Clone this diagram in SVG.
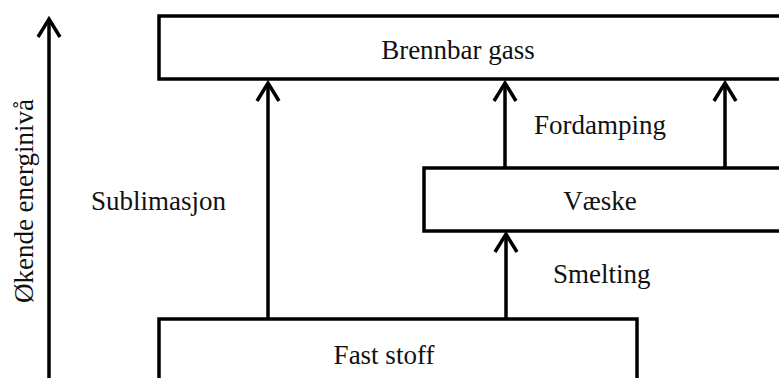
<svg xmlns="http://www.w3.org/2000/svg" width="779" height="378" viewBox="0 0 779 378">
  <style>
    .box { fill: #ffffff; stroke: #000000; stroke-width: 3.5; }
    .conn { fill: none; stroke: #000000; stroke-width: 3.5; marker-end: url(#chev); }
    text { font-family: "Liberation Serif", "Times New Roman", serif; font-size: 27px; fill: #111111; }
    .c { text-anchor: middle; }
  </style>
  <defs>
    <marker id="chev" markerUnits="userSpaceOnUse" orient="auto" refX="0" refY="0" markerWidth="30" markerHeight="30" overflow="visible">
      <path d="M-18,-11 L0,0 L-18,11" fill="none" stroke="#000000" stroke-width="3.5" stroke-linejoin="miter" stroke-linecap="butt"/>
    </marker>
  </defs>
  <rect x="0" y="0" width="779" height="378" fill="#ffffff"/>

  <g id="axis">
    <line class="conn" x1="49" y1="380" x2="49" y2="19"/>
    <text transform="translate(33,201) rotate(-90)" class="c" font-size="28.5px">Økende energinivå</text>
  </g>

  <g id="node-gass">
    <rect class="box" x="159" y="16" width="650" height="63"/>
    <text class="c" x="458" y="59">Brennbar gass</text>
  </g>

  <g id="node-vaeske">
    <rect class="box" x="424" y="168" width="385" height="63"/>
    <text class="c" x="600" y="210">Væske</text>
  </g>

  <g id="node-fast">
    <rect class="box" x="159" y="319" width="478" height="80"/>
    <text class="c" x="384" y="364">Fast stoff</text>
  </g>

  <g id="connectors">
    <line class="conn" x1="268" y1="319" x2="268" y2="83"/>
    <line class="conn" x1="505" y1="168" x2="505" y2="83"/>
    <line class="conn" x1="725" y1="168" x2="725" y2="83"/>
    <line class="conn" x1="506" y1="319" x2="506" y2="234"/>
  </g>

  <g id="labels">
    <text x="91" y="210">Sublimasjon</text>
    <text x="534" y="134">Fordamping</text>
    <text x="553" y="283">Smelting</text>
  </g>
</svg>
